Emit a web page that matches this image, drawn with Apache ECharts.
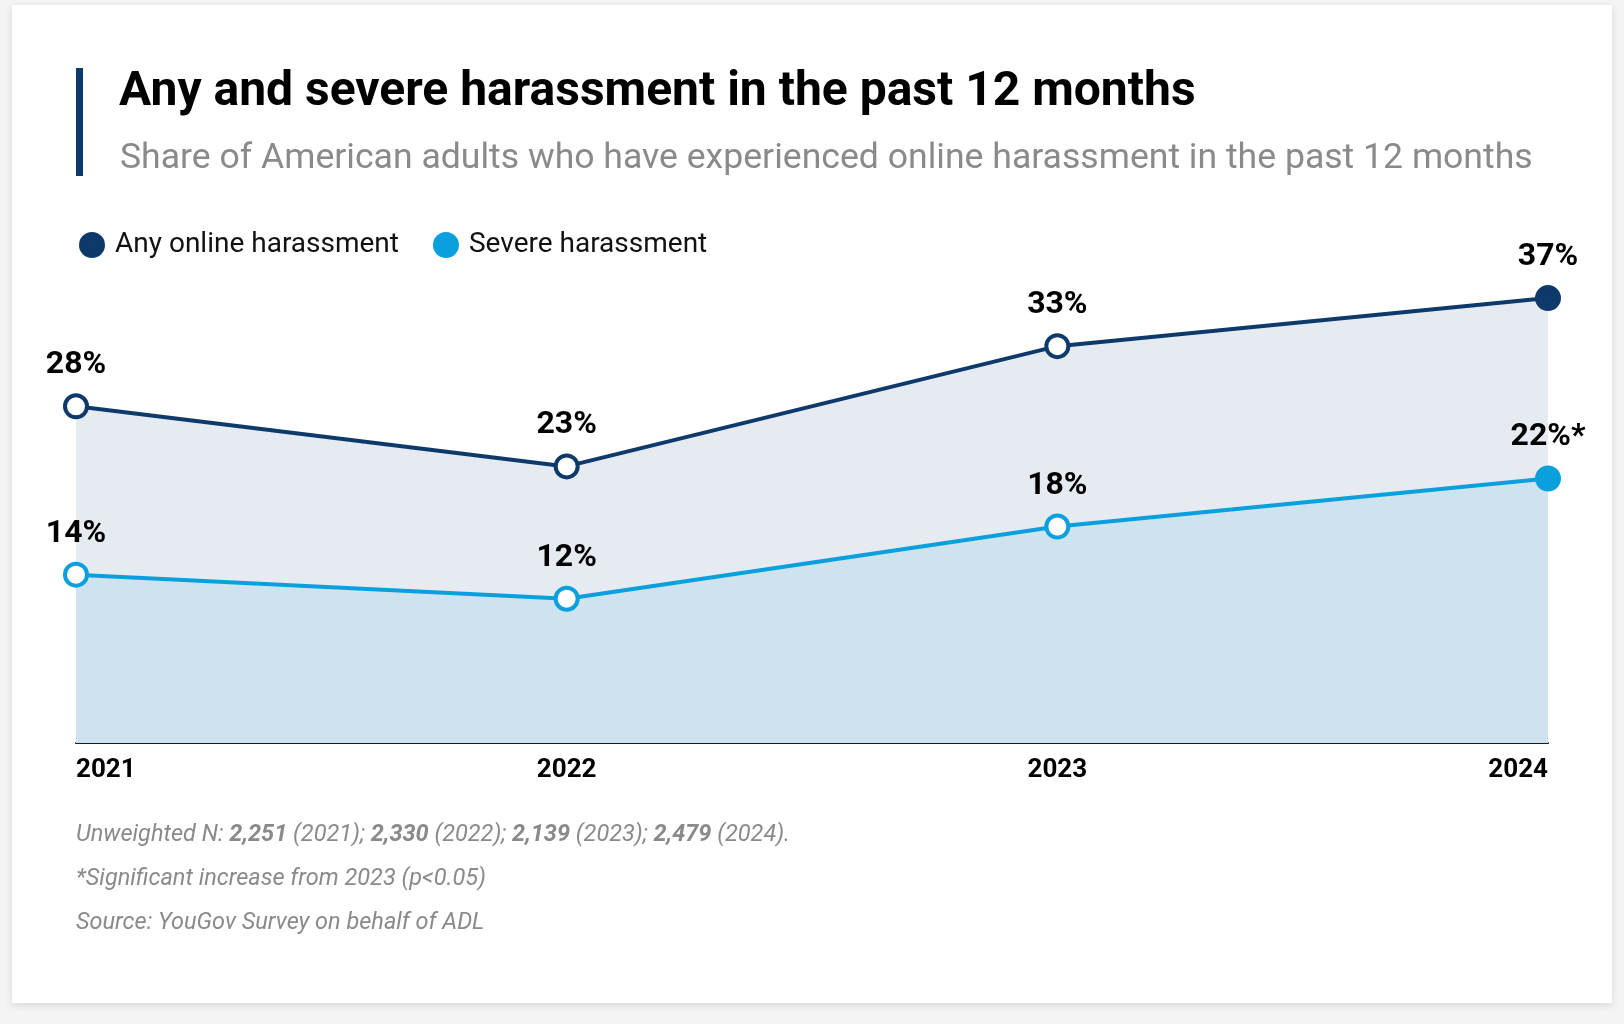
<!DOCTYPE html>
<html><head><meta charset="utf-8">
<script src="https://cdn.jsdelivr.net/npm/echarts@6/dist/echarts.min.js"></script>
<style>
html,body{margin:0;padding:0;background:#f4f4f4;}
#card{position:absolute;left:12px;top:5px;width:1600px;height:998px;background:#fff;box-shadow:0 2px 8px rgba(0,0,0,0.12);}
#chart{position:absolute;left:0;top:0;width:1624px;height:1024px;}
</style></head>
<body>
<div id="card"></div>
<div id="chart"></div>
<script>
const years = ['2021', '2022', '2023', '2024'];
const anyHarassment = [28, 23, 33, 37];
const severeHarassment = [14, 12, 18, 22];
const severeLabels = ['14%', '12%', '18%', '22%*'];

const DARK = '#0d3a6b', LIGHT = '#0aa0de';
const chart = echarts.init(document.getElementById('chart'));

function pointData(values, color) {
  return values.map((v, i) => ({
    value: v,
    itemStyle: i === values.length - 1 ? { color: color, borderColor: color } : { color: '#fff', borderColor: color }
  }));
}

const footStyle = { fontSize: 23.5, fontStyle: 'italic', fill: '#8a8a8a', fontFamily: 'Roboto' };

chart.setOption({
  textStyle: { fontFamily: 'Roboto' },
  title: [
    { text: 'Any and severe harassment in the past 12 months', left: 114, top: 64,
      textStyle: { fontSize: 48, fontWeight: 'bold', color: '#000', fontFamily: 'Roboto' } },
    { text: 'Share of American adults who have experienced online harassment in the past 12 months', left: 115, top: 136,
      textStyle: { fontSize: 35.6, fontWeight: 'normal', color: '#8a8a8a', fontFamily: 'Roboto' } }
  ],
  graphic: [
    { type: 'rect', shape: { x: 76, y: 68, width: 7, height: 108 }, style: { fill: DARK } },
    { type: 'text', left: 76, top: 824, style: {
      text: '{i|Unweighted N: }{b|2,251}{i| (2021); }{b|2,330}{i| (2022); }{b|2,139}{i| (2023); }{b|2,479}{i| (2024).}',
      rich: { i: footStyle, b: Object.assign({}, footStyle, { fontWeight: 'bold' }) } } },
    { type: 'text', left: 76, top: 868, style: Object.assign({ text: '*Significant increase from 2023 (p<0.05)' }, footStyle) },
    { type: 'text', left: 76, top: 912, style: Object.assign({ text: 'Source: YouGov Survey on behalf of ADL' }, footStyle) }
  ],
  legend: {
    left: 74, top: 226, icon: 'circle', itemWidth: 24, itemHeight: 24, itemGap: 34,
    textStyle: { fontSize: 28, color: '#111', fontFamily: 'Roboto', padding: [0, 0, 0, 6] },
    data: [
      { name: 'Any online harassment', itemStyle: { color: DARK, borderColor: DARK } },
      { name: 'Severe harassment', itemStyle: { color: LIGHT, borderColor: LIGHT } }
    ]
  },
  grid: { left: 76, right: 76, top: 262, bottom: 281 },
  xAxis: {
    type: 'category', data: years, boundaryGap: false,
    axisLine: { lineStyle: { color: '#0b1a2e', width: 2 } }, axisTick: { show: false },
    axisLabel: { fontSize: 26, fontWeight: 'bold', color: '#000', margin: 14,
      alignMinLabel: 'left', alignMaxLabel: 'right' }
  },
  yAxis: { type: 'value', min: 0, max: 40, show: false, splitLine: { show: false } },
  series: [
    { name: 'Any online harassment', type: 'line', data: pointData(anyHarassment, DARK),
      symbol: 'circle', symbolSize: 22, lineStyle: { color: DARK, width: 4 },
      itemStyle: { borderWidth: 4 }, areaStyle: { color: '#e6eaf1', opacity: 1 },
      label: { show: true, position: 'top', distance: 12, formatter: '{c}%', fontSize: 32, fontWeight: 'bold', color: '#000' },
      z: 2 },
    { name: 'Severe harassment', type: 'line', data: pointData(severeHarassment, LIGHT),
      symbol: 'circle', symbolSize: 22, lineStyle: { color: LIGHT, width: 4 },
      itemStyle: { borderWidth: 4 }, areaStyle: { color: '#cfe3ee', opacity: 1 },
      label: { show: true, position: 'top', distance: 12, formatter: p => severeLabels[p.dataIndex], fontSize: 32, fontWeight: 'bold', color: '#000' },
      z: 3 }
  ]
});
</script>
</body></html>
